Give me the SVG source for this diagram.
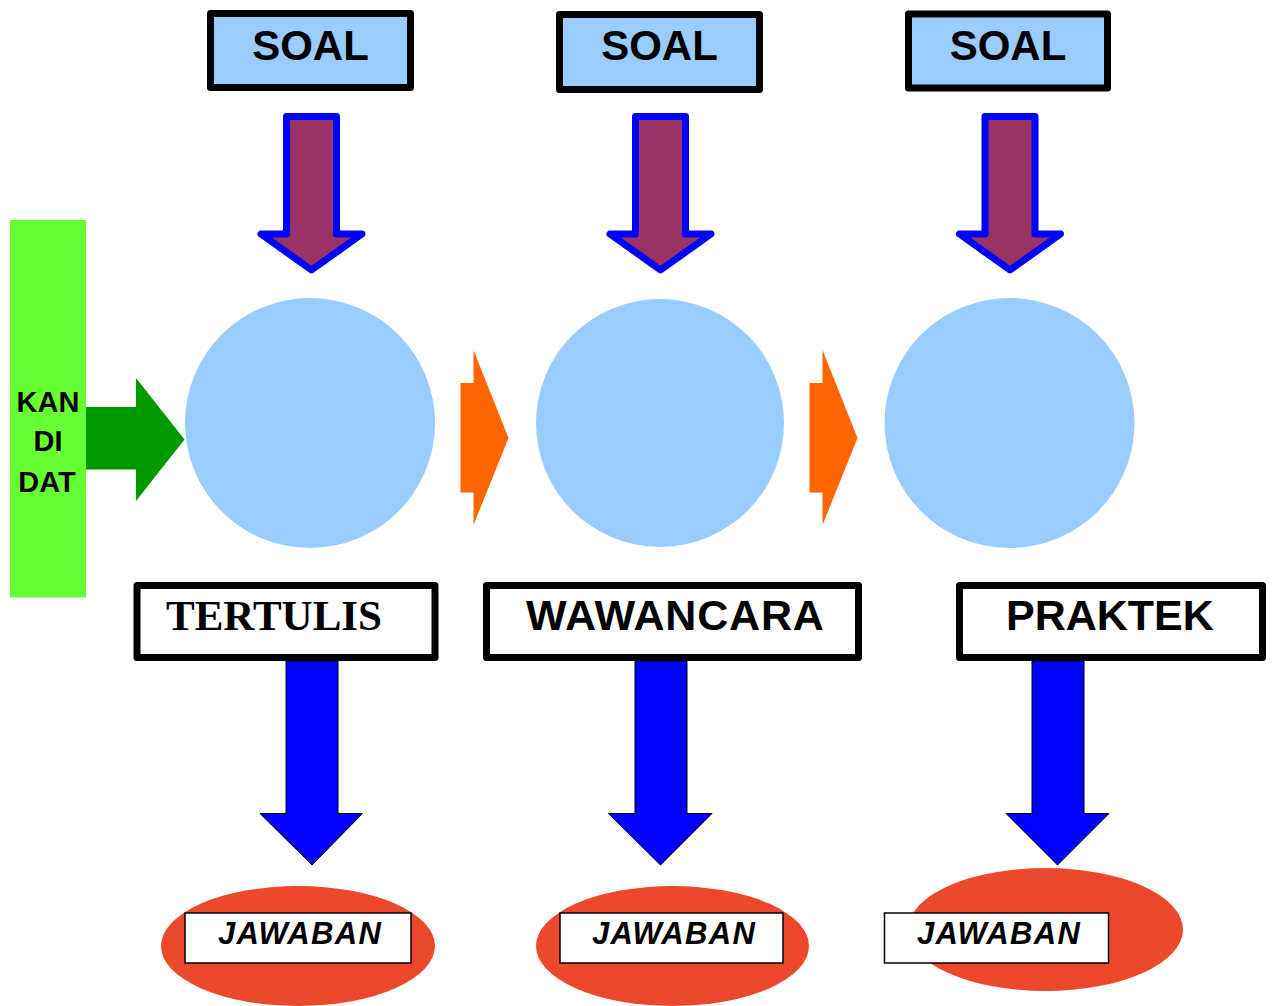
<svg xmlns="http://www.w3.org/2000/svg" width="1274" height="1006" viewBox="0 0 1274 1006">
<style>
.soalbox{fill:#99ccff;stroke:#000;stroke-width:7;stroke-linejoin:round}
.soal{font-family:"Liberation Sans",Arial,sans-serif;font-weight:bold;font-size:42px;text-anchor:middle;fill:#000}
.inarrow{fill:#993366;stroke:#0000ff;stroke-width:7;stroke-linejoin:round}
.proc{fill:#99ccff}
.labbox{fill:#fff;stroke:#000;stroke-width:7;stroke-linejoin:round}
.lab{font-family:"Liberation Sans",Arial,sans-serif;font-weight:bold;font-size:43px;fill:#000}
.outarrow{fill:#0000ff;stroke:#000;stroke-width:1}
.ans{fill:#ec492c}
.ansbox{fill:#fff;stroke:#000;stroke-width:1.5}
.anst{font-family:"Liberation Sans",Arial,sans-serif;font-weight:bold;font-style:italic;font-size:31px;letter-spacing:1.3px;fill:#000}
.orange{fill:#ff6600}
</style>

<g id="connectors">
  <path class="inarrow" d="M286.5,116.5 L336.5,116.5 L336.5,234 L362,234 L311.5,270 L261,234 L286.5,234 Z"/>
  <path class="inarrow" d="M635.5,116.5 L685.5,116.5 L685.5,234 L711,234 L660.5,270 L610,234 L635.5,234 Z"/>
  <path class="inarrow" d="M985,116.5 L1035,116.5 L1035,234 L1060.5,234 L1010,270 L959.5,234 L985,234 Z"/>
  <path fill="#009900" d="M86,407 L136,407 L136,378 L184.5,439.5 L136,501 L136,469.5 L86,469.5 Z"/>
  <path class="orange" d="M460.5,383 L473.5,383 L473.5,350 L508.5,438 L473.5,525 L473.5,492.5 L460.5,492.5 Z"/>
  <path class="orange" d="M809.5,383 L822.5,383 L822.5,350 L857.5,438 L822.5,525 L822.5,492.5 L809.5,492.5 Z"/>
  <path class="outarrow" d="M286,661 L338,661 L338,813.5 L362.5,813.5 L312,865 L260,813.5 L286,813.5 Z"/>
  <path class="outarrow" d="M635,661 L687,661 L687,813.5 L712,813.5 L660.5,865 L608.5,813.5 L635,813.5 Z"/>
  <path class="outarrow" d="M1032,661 L1084,661 L1084,813.5 L1109,813.5 L1057.5,865 L1006,813.5 L1032,813.5 Z"/>
</g>

<g id="soal1"><rect class="soalbox" x="210.5" y="13.5" width="200" height="74"/><text class="soal" x="310.5" y="59.5">SOAL</text></g>
<g id="soal2"><rect class="soalbox" x="559.5" y="14.5" width="200" height="75"/><text class="soal" x="659.5" y="60">SOAL</text></g>
<g id="soal3"><rect class="soalbox" x="908.5" y="14" width="199" height="74"/><text class="soal" x="1008" y="59.5">SOAL</text></g>

<g id="kandidat">
  <rect x="10" y="220" width="76" height="377.5" fill="#66ff33"/>
  <text font-family="'Liberation Sans',Arial,sans-serif" font-weight="bold" font-size="29" text-anchor="middle" fill="#000">
    <tspan x="48" y="411.5">KAN</tspan><tspan x="48" y="451">DI</tspan><tspan x="47" y="491.5">DAT</tspan>
  </text>
</g>

<g id="proc1"><circle class="proc" cx="310" cy="423" r="125"/></g>
<g id="proc2"><circle class="proc" cx="660" cy="423" r="124"/></g>
<g id="proc3"><circle class="proc" cx="1009.5" cy="423" r="125"/></g>

<g id="tertulis"><rect class="labbox" x="137" y="585.5" width="298" height="72"/><text x="166" y="630" font-family="'Liberation Serif','Times New Roman',serif" font-weight="bold" font-size="43" fill="#000">TERTULIS</text></g>
<g id="wawancara"><rect class="labbox" x="486.5" y="585.5" width="372" height="72"/><text class="lab" x="526" y="630" letter-spacing="0.8">WAWANCARA</text></g>
<g id="praktek"><rect class="labbox" x="959.5" y="585.5" width="303" height="72"/><text class="lab" x="1006" y="630">PRAKTEK</text></g>

<g id="jawaban1"><ellipse class="ans" cx="298" cy="946" rx="137" ry="60"/><rect class="ansbox" x="185" y="913" width="226" height="50"/><text class="anst" x="218" y="943.5">JAWABAN</text></g>
<g id="jawaban2"><ellipse class="ans" cx="672.5" cy="946" rx="136.5" ry="60"/><rect class="ansbox" x="560" y="913" width="223" height="50"/><text class="anst" x="592" y="943.5">JAWABAN</text></g>
<g id="jawaban3"><ellipse class="ans" cx="1045.5" cy="929.5" rx="137.5" ry="61.5"/><rect class="ansbox" x="884.5" y="913" width="224" height="50"/><text class="anst" x="917" y="943.5">JAWABAN</text></g>
</svg>
